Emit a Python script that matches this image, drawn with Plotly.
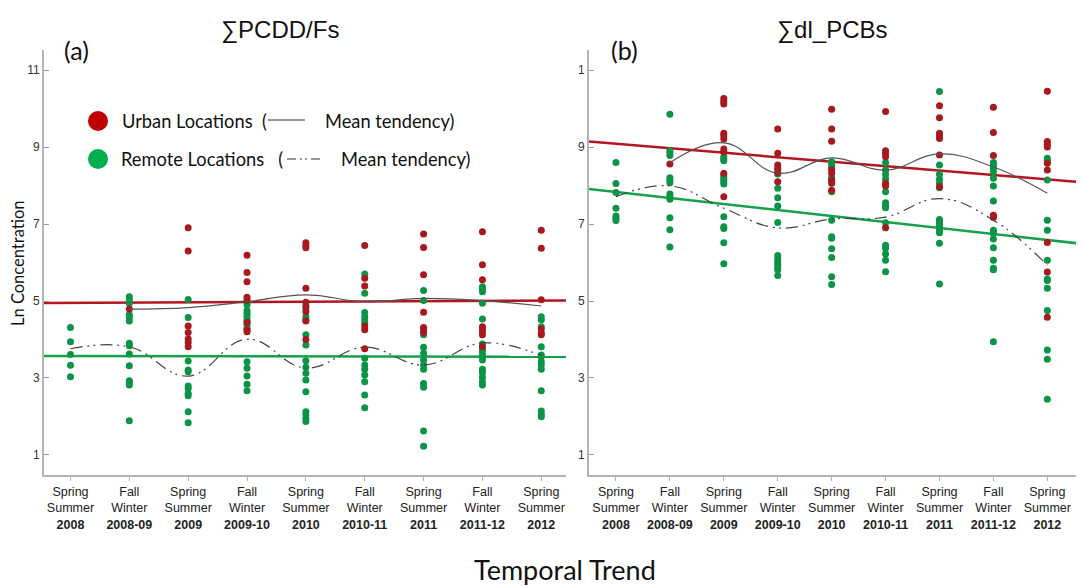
import plotly.graph_objects as go

# ---------------- data ----------------
seasons = ["Spring<br>Summer", "Fall<br>Winter", "Spring<br>Summer", "Fall<br>Winter",
           "Spring<br>Summer", "Fall<br>Winter", "Spring<br>Summer", "Fall<br>Winter",
           "Spring<br>Summer"]
years = ["2008", "2008-09", "2009", "2009-10", "2010", "2010-11", "2011", "2011-12", "2012"]

# (a) sum PCDD/Fs, Ln concentration, one list per period
pcdd_urban = [
    [],
    [4.79],
    [6.90, 6.30, 4.35, 4.18, 4.01, 3.92, 3.81],
    [6.19, 5.74, 5.50, 5.10, 5.02, 4.44, 4.25, 4.20],
    [6.51, 6.45, 6.38, 5.33, 4.97, 4.87, 4.72, 4.48, 4.00],
    [6.44, 5.59, 5.39, 4.35, 4.25, 3.76],
    [6.74, 6.39, 5.68, 4.71, 4.31, 4.25, 4.18],
    [6.80, 5.94, 5.55, 4.33, 4.27, 4.22, 4.12, 3.81],
    [6.84, 6.37, 5.03, 4.27, 4.16, 4.12],
]
pcdd_remote = [
    [4.31, 3.94, 3.61, 3.33, 3.03],
    [5.11, 5.03, 4.94, 4.64, 4.57, 4.48, 3.90, 3.84, 3.62, 3.32, 2.93, 2.88, 2.82, 1.89],
    [5.04, 4.57, 3.44, 3.21, 3.16, 2.79, 2.73, 2.60, 2.54, 2.12, 1.84],
    [4.98, 4.90, 4.75, 4.68, 4.61, 4.52, 4.46, 4.38, 4.29, 3.42, 3.25, 3.05, 2.84, 2.67],
    [4.81, 4.59, 4.52, 4.12, 3.86, 3.45, 3.28, 3.12, 2.95, 2.64, 2.12, 2.04, 1.95, 1.87],
    [5.70, 5.20, 4.70, 4.59, 4.51, 4.42, 3.51, 3.34, 3.23, 3.08, 2.90, 2.56, 2.23],
    [5.27, 5.01, 4.12, 3.80, 3.64, 3.47, 3.34, 3.23, 2.86, 2.76, 1.62, 1.23],
    [5.37, 5.31, 5.24, 4.94, 4.53, 3.88, 3.75, 3.68, 3.60, 3.54, 3.47, 3.23, 3.14, 3.02, 2.90, 2.82],
    [4.59, 4.51, 4.33, 3.81, 3.60, 3.55, 3.42, 3.34, 3.23, 2.67, 2.14, 2.06, 1.99],
]
pcdd_urban_mean = [4.79, 4.83, 4.98, 5.16, 4.98, 5.07, 5.01, 4.87]          # periods 1..8
pcdd_remote_mean = [3.76, 3.81, 3.05, 4.01, 3.26, 3.80, 3.34, 3.91, 3.58]  # periods 0..8
pcdd_urban_trend = [4.95, 5.01]    # fitted line at left / right end of axis
pcdd_remote_trend = [3.57, 3.55]

# (b) sum dl_PCBs
pcb_urban = [
    [],
    [8.56],
    [10.26, 10.19, 10.12, 9.36, 9.29, 9.21, 8.95, 8.88, 8.32, 7.71],
    [9.47, 8.84, 8.53, 8.45, 8.33, 8.10],
    [9.98, 9.47, 9.15, 8.40, 8.32, 8.14, 8.06, 7.88],
    [9.92, 8.90, 8.84, 8.75, 8.06, 7.99, 6.90],
    [10.07, 9.76, 9.36, 9.29, 9.22, 8.79, 7.97],
    [10.03, 9.38, 8.78, 7.23, 7.17],
    [10.45, 9.14, 9.07, 9.00, 8.58, 8.40, 6.52, 5.75, 4.58],
]
pcb_remote = [
    [8.60, 8.05, 7.82, 7.41, 7.21, 7.15, 7.09],
    [9.85, 8.90, 8.85, 8.78, 8.20, 8.14, 8.07, 7.78, 7.71, 7.64, 7.16, 6.85, 6.40],
    [8.75, 8.69, 8.64, 8.27, 8.22, 8.16, 8.10, 8.04, 7.19, 6.93, 6.88, 6.51, 5.97],
    [8.40, 8.30, 7.93, 7.68, 7.47, 7.04, 6.18, 6.09, 6.02, 5.95, 5.88, 5.81, 5.66],
    [8.62, 8.55, 8.47, 8.20, 8.14, 7.84, 7.10, 6.67, 6.63, 6.36, 6.13, 5.63, 5.43],
    [8.59, 8.40, 8.29, 8.17, 8.04, 7.84, 7.55, 7.49, 7.42, 7.03, 6.45, 6.37, 6.22, 6.06, 5.76],
    [10.44, 8.53, 8.29, 8.16, 8.06, 7.94, 7.12, 7.06, 7.00, 6.93, 6.84, 6.77, 6.50, 5.44],
    [8.60, 8.53, 8.45, 8.36, 8.19, 7.99, 7.60, 7.19, 6.84, 6.76, 6.61, 6.38, 6.06, 5.85, 5.81, 3.94],
    [8.71, 8.65, 8.59, 8.14, 7.10, 6.84, 6.06, 5.57, 5.53, 5.33, 4.75, 3.73, 3.49, 2.45],
]
pcb_urban_mean = [8.59, 9.11, 8.32, 8.72, 8.40, 8.82, 8.48, 7.80]
pcb_remote_mean = [7.71, 7.99, 7.41, 6.90, 7.13, 7.18, 7.66, 7.10, 5.93]
pcb_urban_trend = [9.14, 8.08]
pcb_remote_trend = [7.91, 6.48]

y_ticks = [1, 3, 5, 7, 9, 11]

# ---------------- styling ----------------
PAGE_W, PAGE_H = 1084, 586
BODY = 8                      # browser default body margin
W, H = PAGE_W - BODY, PAGE_H - BODY
RED_PT, GREEN_PT = "#a8191e", "#0c9446"
RED_LN, GREEN_LN = "#b3161e", "#15a04a"
AXIS_COL = "#b4b4b4"
ARIAL = "Arial, Liberation Sans, sans-serif"
XTICK_FONT = dict(family=ARIAL, size=12.5, color="#222")
YTICK_FONT = dict(family=ARIAL, size=12, color="#333")
CAL = "Lato, Carlito, Calibri, sans-serif"

xr1 = [-0.45, 8.42]
xr2 = [-0.5, 8.68]
yr = [0.48, 11.52]

ticktext = [f"{s}<br><b>{y}</b>" for s, y in zip(seasons, years)]


def px(x):
    return (x - BODY) / W


def py(y):
    return 1 - (y - BODY) / H


fig = go.Figure()


def add_panel(urban, remote, umean, rmean, utrend, rtrend, xref, yref, xr):
    # regression lines
    fig.add_trace(go.Scatter(x=xr, y=utrend, mode="lines", line=dict(color=RED_LN, width=2.5),
                             xaxis=xref, yaxis=yref, hoverinfo="skip", showlegend=False))
    fig.add_trace(go.Scatter(x=xr, y=rtrend, mode="lines", line=dict(color=GREEN_LN, width=2.5),
                             xaxis=xref, yaxis=yref, hoverinfo="skip", showlegend=False))
    # points
    for vals, col in ((remote, GREEN_PT), (urban, RED_PT)):
        xs, ys = [], []
        for i, col_vals in enumerate(vals):
            xs += [i] * len(col_vals)
            ys += col_vals
        fig.add_trace(go.Scatter(x=xs, y=ys, mode="markers",
                                 marker=dict(color=col, size=7, line=dict(width=0)),
                                 xaxis=xref, yaxis=yref, showlegend=False))
    # mean tendencies
    fig.add_trace(go.Scatter(x=list(range(1, 1 + len(umean))), y=umean, mode="lines",
                             line=dict(color="#555", width=1.2, shape="spline", smoothing=1.2),
                             xaxis=xref, yaxis=yref, hoverinfo="skip", showlegend=False))
    fig.add_trace(go.Scatter(x=list(range(len(rmean))), y=rmean, mode="lines",
                             line=dict(color="#444", width=1.2, shape="spline", smoothing=1.2,
                                       dash="12px,5px,2px,4px,2px,5px"),
                             xaxis=xref, yaxis=yref, hoverinfo="skip", showlegend=False))


add_panel(pcdd_urban, pcdd_remote, pcdd_urban_mean, pcdd_remote_mean,
          pcdd_urban_trend, pcdd_remote_trend, "x", "y", xr1)
add_panel(pcb_urban, pcb_remote, pcb_urban_mean, pcb_remote_mean,
          pcb_urban_trend, pcb_remote_trend, "x2", "y2", xr2)

xaxis_common = dict(tickvals=list(range(9)), ticktext=ticktext, tickfont=XTICK_FONT,
                    showgrid=False, zeroline=False, showline=True, linecolor=AXIS_COL,
                    linewidth=2, ticks="outside", ticklen=4, tickcolor=AXIS_COL,
                    tickangle=0, fixedrange=True)
yaxis_common = dict(tickvals=y_ticks, tickfont=YTICK_FONT, range=yr, showgrid=False,
                    zeroline=False, showline=True, linecolor=AXIS_COL, linewidth=2,
                    ticks="inside", ticklen=5, tickcolor="#999", tickwidth=1,
                    domain=[py(475), py(50)], fixedrange=True)

fig.update_layout(
    width=W, height=H, margin=dict(l=0, r=0, t=0, b=0),
    plot_bgcolor="white", paper_bgcolor="white", showlegend=False,
    xaxis=dict(domain=[px(44), px(566)], range=xr1, anchor="y", **xaxis_common),
    xaxis2=dict(domain=[px(589), 1.0], range=xr2, anchor="y2", **xaxis_common),
    yaxis=dict(anchor="x", ticktext=[str(v) for v in y_ticks], **yaxis_common),
    yaxis2=dict(anchor="x2", ticktext=[str(v) for v in y_ticks[:-1]] + ["1"], **yaxis_common),
)

ann = []
# panel titles
ann.append(dict(x=px(280), y=py(30), text="∑PCDD/Fs", font=dict(family=ARIAL, size=24, color="#111")))
ann.append(dict(x=px(832), y=py(30), text="∑dl_PCBs", font=dict(family=ARIAL, size=24, color="#111")))
ann.append(dict(x=px(76), y=py(50), text="(a)", font=dict(family=CAL, size=25, color="#111")))
ann.append(dict(x=px(624), y=py(50), text="(b)", font=dict(family=CAL, size=25, color="#111")))
# axis titles
ann.append(dict(x=px(18), y=py(264), text="Ln Concentration", textangle=-90,
                font=dict(family=CAL, size=16.5, color="#111")))
ann.append(dict(x=px(565), y=py(569), text="Temporal Trend", font=dict(family=CAL, size=27, color="#111")))
# legend texts
LEG = dict(family=CAL, size=18.3, color="#111")
ann.append(dict(x=px(120), y=py(121), text="Urban Locations  (", xanchor="left", font=LEG))
ann.append(dict(x=px(323), y=py(121), text="Mean tendency)", xanchor="left", font=LEG))
ann.append(dict(x=px(119), y=py(159), text="Remote Locations   (", xanchor="left", font=LEG))
ann.append(dict(x=px(339), y=py(159), text="Mean tendency)", xanchor="left", font=LEG))

for a in ann:
    a.setdefault("xanchor", "center")
    a.update(xref="paper", yref="paper", yanchor="middle", showarrow=False)
fig.update_layout(annotations=ann)

shapes = [
    dict(type="circle", xref="paper", yref="paper", x0=px(88), x1=px(108), y0=py(131), y1=py(111),
         fillcolor="#c00000", line=dict(width=0)),
    dict(type="circle", xref="paper", yref="paper", x0=px(88), x1=px(108), y0=py(169), y1=py(149),
         fillcolor="#00b050", line=dict(width=0)),
    dict(type="line", xref="paper", yref="paper", x0=px(268), x1=px(305), y0=py(120), y1=py(120),
         line=dict(color="#333", width=1.2)),
    dict(type="line", xref="paper", yref="paper", x0=px(287), x1=px(323), y0=py(159), y1=py(159),
         line=dict(color="#333", width=1.2, dash="9px,4px,2px,3px,2px,4px")),
]
fig.update_layout(shapes=shapes)

fig.write_html("out.html")
